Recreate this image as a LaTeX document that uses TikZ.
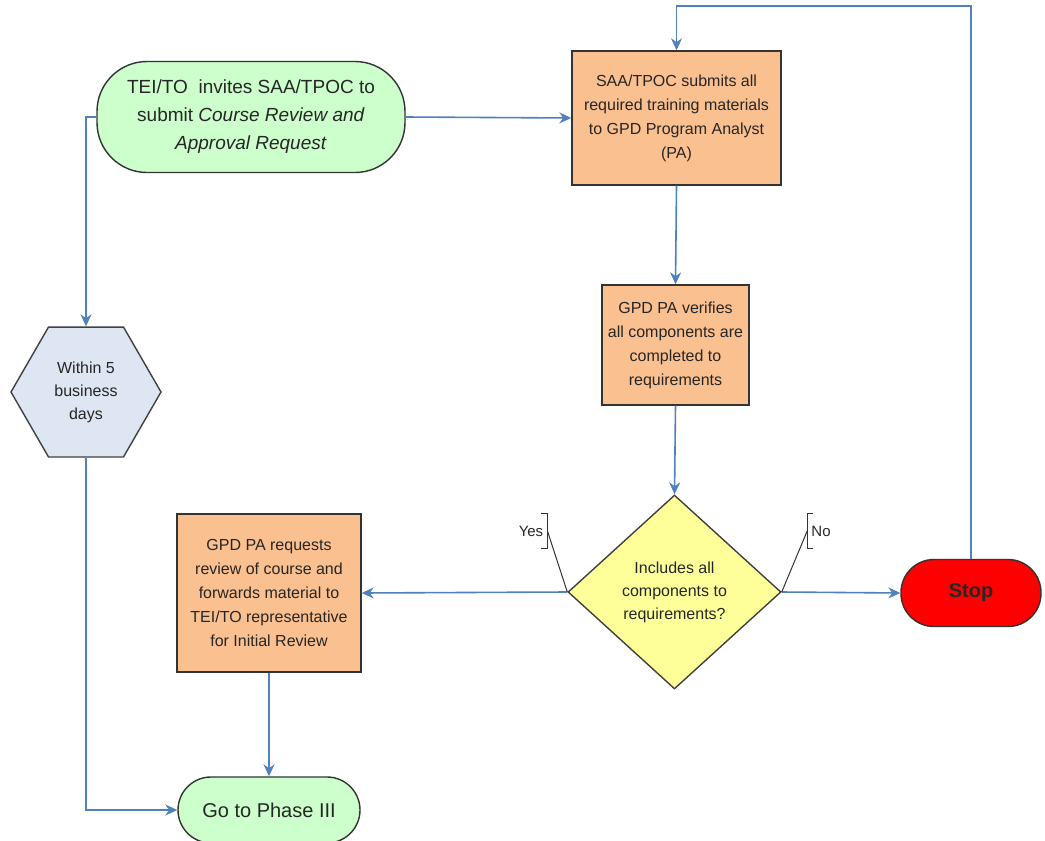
\documentclass[tikz,border=0pt]{standalone}
\usepackage{fontspec}
\setmainfont{Liberation Sans}
\usetikzlibrary{shapes.geometric,arrows.meta}
\definecolor{termgreen}{RGB}{204,255,204}
\definecolor{procorange}{RGB}{250,192,144}
\definecolor{waitblue}{RGB}{221,230,242}
\definecolor{askyellow}{RGB}{255,255,153}
\definecolor{flowblue}{RGB}{79,129,189}
\begin{document}
\begin{tikzpicture}[x=1pt,y=-1pt,>={Stealth[length=12pt,width=11pt]},
        terminal/.style={draw=black!80,line width=1.4pt,fill=termgreen,align=center,text=black!85},
        procbox/.style={draw=black!80,line width=1.4pt,fill=procorange,align=center,text=black!85,inner sep=0pt,font=\fontsize{16}{24}\selectfont},
        waitbox/.style={draw=black!75,line width=1.4pt,fill=waitblue,regular polygon,regular polygon sides=6,minimum size=150pt,inner sep=0pt,align=center,text=black!85,font=\fontsize{16}{23}\selectfont},
        decision/.style={draw=black!75,line width=1.4pt,fill=askyellow,diamond,aspect=1.1,minimum width=213pt,minimum height=194pt,inner sep=0pt,align=center,text=black!85,font=\fontsize{16}{23}\selectfont},
        answer/.style={inner xsep=4pt,minimum height=34pt,text=black!85,font=\fontsize{15}{18}\selectfont},
        flow/.style={->,draw=flowblue,line width=1.6pt},
        callout/.style={draw=black!80,line width=1pt}]
        \useasboundingbox (0,0) rectangle (1045,841);
        \node[terminal,rounded corners=50pt,minimum width=308pt,minimum height=111pt,font=\fontsize{19}{28}\selectfont]
            (start) at (251,117) {TEI/TO\ \ invites SAA/TPOC to\\submit \textit{Course Review and}\\\textit{Approval Request}};
        \node[procbox,minimum width=209pt,minimum height=134pt](submit) at (676.5,118)
            {SAA/TPOC submits all\\required training materials\\to GPD Program Analyst\\(PA)};
        \node[procbox,minimum width=147pt,minimum height=120pt](verify) at (675.5,345)
            {GPD PA verifies\\all components are\\completed to\\requirements};
        \node[decision](check) at (674.5,592){Includes all\\components to\\requirements?};
        \node[terminal,rounded corners=33pt,fill=red,minimum width=140pt,minimum height=67pt,font=\fontsize{20}{24}\selectfont\bfseries]
            (stop) at (971,593){Stop};
        \node[waitbox](wait) at (86,392){Within 5\\business\\days};
        \node[procbox,minimum width=184pt,minimum height=158pt](review) at (269,593)
            {GPD PA requests\\review of course and\\forwards material to\\TEI/TO representative\\for Initial Review};
        \node[terminal,rounded corners=33pt,minimum width=182pt,minimum height=66pt,font=\fontsize{20}{24}\selectfont]
            (phase) at (269,810){Go to Phase III};
        \node[answer](yes) at (531,531){Yes};
        \node[answer](no) at (821,531){No};
        \coordinate (looptop) at (976,6);
        \draw[flow](start.east)--(submit.west);
        \draw[flow](start.west)-|(wait.north);
        \draw[flow](wait.south)|-(phase.west);
        \draw[flow](submit.south)--(verify.north);
        \draw[flow](verify.south)--(check.north);
        \draw[flow](check.west)--(review.east);
        \draw[flow](check.east)--(stop.west);
        \draw[flow](stop.north)--(stop.north|-looptop)-|(submit.north);
        \draw[flow](review.south)--(phase.north);
        \draw[callout]([xshift=-6pt]yes.north east)--(yes.north east)--(yes.south east)--([xshift=-6pt]yes.south east);
        \draw[callout](check.west)--(yes.east);
        \draw[callout]([xshift=6pt]no.north west)--(no.north west)--(no.south west)--([xshift=6pt]no.south west);
        \draw[callout](check.east)--(no.west);
    \end{tikzpicture}
\end{document}
